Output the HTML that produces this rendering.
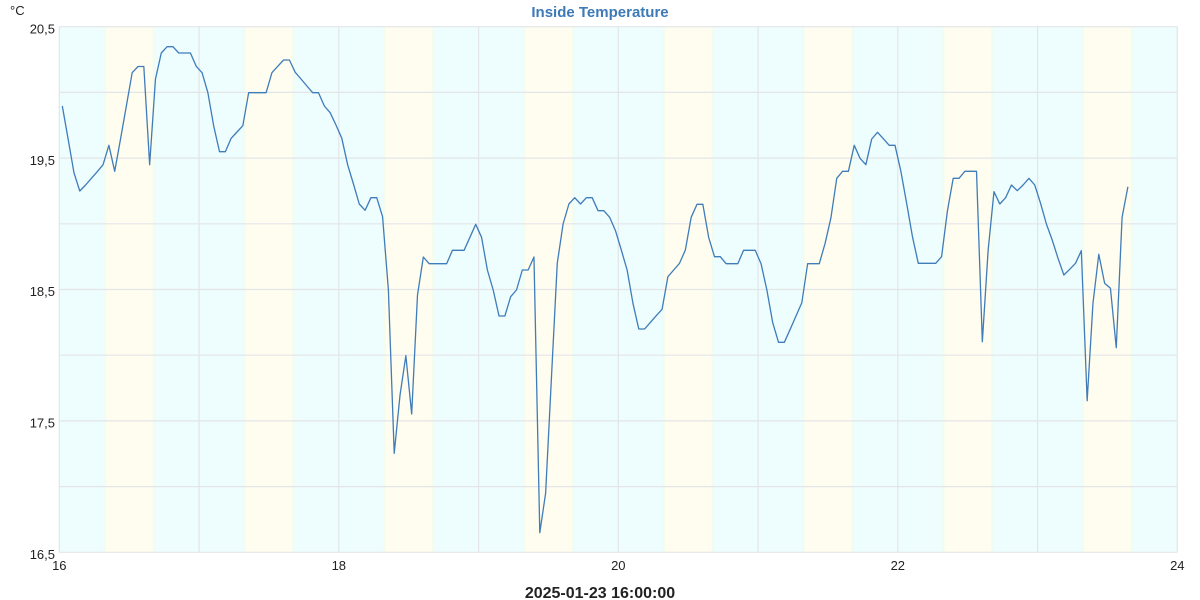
<!DOCTYPE html>
<html>
<head>
<meta charset="utf-8">
<style>
html,body{margin:0;padding:0;background:#fff;}
svg{display:block;font-family:"Liberation Sans",Arial,sans-serif;}
</style>
</head>
<body>
<svg width="1200" height="600" viewBox="0 0 1200 600" xmlns="http://www.w3.org/2000/svg">
<defs>
<linearGradient id="yb" x1="0" y1="0" x2="1" y2="0">
<stop offset="0" stop-color="#eefdfd"/>
<stop offset="0.03" stop-color="#f1fdef"/>
<stop offset="0.07" stop-color="#fffdef"/>
<stop offset="0.93" stop-color="#fffdef"/>
<stop offset="0.97" stop-color="#f1fdef"/>
<stop offset="1" stop-color="#eefdfd"/>
</linearGradient>
</defs>
<rect x="0" y="0" width="1200" height="600" fill="#ffffff"/>
<!-- plot background -->
<rect x="59.3" y="26.7" width="1118" height="525.6" fill="#eefdfd"/>
<g fill="url(#yb)">
<rect x="103.3" y="26.7" width="52" height="525.6"/>
<rect x="243.05" y="26.7" width="52" height="525.6"/>
<rect x="382.8" y="26.7" width="52" height="525.6"/>
<rect x="522.55" y="26.7" width="52" height="525.6"/>
<rect x="662.3" y="26.7" width="52" height="525.6"/>
<rect x="802.05" y="26.7" width="52" height="525.6"/>
<rect x="941.8" y="26.7" width="52" height="525.6"/>
<rect x="1081.55" y="26.7" width="52" height="525.6"/>
</g>
<!-- grid -->
<g stroke="#e3e5e8" stroke-width="1.2" fill="none">
<line x1="59.3" y1="26.7" x2="1177.3" y2="26.7"/>
<line x1="59.3" y1="92.4" x2="1177.3" y2="92.4"/>
<line x1="59.3" y1="158.1" x2="1177.3" y2="158.1"/>
<line x1="59.3" y1="223.8" x2="1177.3" y2="223.8"/>
<line x1="59.3" y1="289.5" x2="1177.3" y2="289.5"/>
<line x1="59.3" y1="355.2" x2="1177.3" y2="355.2"/>
<line x1="59.3" y1="420.9" x2="1177.3" y2="420.9"/>
<line x1="59.3" y1="486.6" x2="1177.3" y2="486.6"/>
<line x1="59.3" y1="552.3" x2="1177.3" y2="552.3"/>
<line x1="59.3" y1="26.7" x2="59.3" y2="552.3"/>
<line x1="199.05" y1="26.7" x2="199.05" y2="552.3"/>
<line x1="338.8" y1="26.7" x2="338.8" y2="552.3"/>
<line x1="478.55" y1="26.7" x2="478.55" y2="552.3"/>
<line x1="618.3" y1="26.7" x2="618.3" y2="552.3"/>
<line x1="758.05" y1="26.7" x2="758.05" y2="552.3"/>
<line x1="897.8" y1="26.7" x2="897.8" y2="552.3"/>
<line x1="1037.55" y1="26.7" x2="1037.55" y2="552.3"/>
<line x1="1177.3" y1="26.7" x2="1177.3" y2="552.3"/>
</g>
<!-- series -->
<polyline fill="none" stroke="#3f7cba" stroke-width="1.3" stroke-linejoin="round" points="
62.3,106 68.12,139 73.95,172.7 79.77,191 85.59,185 91.42,178.3 97.24,171.7 103.06,164.7 108.88,145.3 114.71,171.3
120.53,139 126.35,106 132.18,72.7 138,66.5 143.82,66.5 149.65,164.7 155.47,79 161.29,53 167.11,46.7 172.94,46.7
178.76,53 184.58,53 190.41,53 196.23,66.3 202.05,72.7 207.88,92.7 213.7,126 219.52,151.7 225.34,151.7 231.17,138.3
236.99,132 242.81,125.7 248.64,92.7 254.46,92.7 260.28,92.7 266.11,92.7 271.93,72.7 277.75,66.3 283.57,60 289.4,60
295.22,72.3 301.04,79 306.87,86 312.69,92.7 318.51,92.7 324.34,106 330.16,112.7 335.98,125 341.8,138.3 347.63,164.7
353.45,184 359.27,204 365.1,210.3 370.92,197.7 376.74,197.7 382.57,216.7 388.39,290 394.21,453.3 400.03,395 405.86,355.7
411.68,414 417.5,295 423.33,257 429.15,263.7 434.97,263.7 440.8,263.7 446.62,263.7 452.44,250.3 458.26,250.3 464.09,250.3
469.91,237.3 475.73,224.3 481.56,237.3 487.38,270 493.2,290 499.03,316 504.85,316 510.67,296.7 516.49,290 522.32,270
528.14,270 533.96,257 539.79,532.7 545.61,493.3 551.43,378 557.26,263.3 563.08,224 568.9,204 574.72,197.7 580.55,204
586.37,197.7 592.19,197.7 598.02,210.7 603.84,210.7 609.66,217.3 615.49,230.7 621.31,250 627.13,270 632.95,303.3 638.78,329
644.6,329 650.42,322.3 656.25,315.7 662.07,309.3 667.89,276.7 673.72,270 679.54,263.3 685.36,250 691.18,217.3 697.01,204.3
702.83,204.3 708.65,237.3 714.48,256.7 720.3,256.7 726.12,263.7 731.95,263.7 737.77,263.7 743.59,250.3 749.41,250.3 755.24,250.3
761.06,263.7 766.88,290 772.71,322.7 778.53,342.3 784.35,342.3 790.18,329.3 796,316 801.82,302.7 807.64,263.7 813.47,263.7
819.29,263.7 825.11,243.3 830.94,217.7 836.76,178.3 842.58,171.3 848.41,171.3 854.23,145.3 860.05,158.3 865.87,164.7 871.7,139
877.52,132.3 883.34,138.7 889.17,145.3 894.99,145.3 900.81,171 906.64,203.3 912.46,236.7 918.28,263.3 924.1,263.3 929.93,263.3
935.75,263.3 941.57,256.7 947.4,211 953.22,178.3 959.04,178.3 964.87,171.3 970.69,171.3 976.51,171.3 982.33,341.7 988.16,250
993.98,191.7 999.8,204 1005.63,197.7 1011.45,185 1017.27,190.7 1023.1,185 1028.92,178.3 1034.74,185 1040.56,203.3 1046.39,224
1052.21,240 1058.03,258.3 1063.86,275 1069.68,269.3 1075.5,263.3 1081.33,250.7 1087.15,400.7 1092.97,303.3 1098.79,254.3 1104.62,283.3
1110.44,288.3 1116.26,347.7 1122.09,217.3 1127.91,186.7"/>
<!-- y labels -->
<g font-size="13" fill="#222" text-anchor="end">
<text x="55" y="33.4">20,5</text>
<text x="55" y="164.8">19,5</text>
<text x="55" y="296.2">18,5</text>
<text x="55" y="427.6">17,5</text>
<text x="55" y="559">16,5</text>
</g>
<!-- x labels -->
<g font-size="13" fill="#222" text-anchor="middle">
<text x="59.3" y="570">16</text>
<text x="338.8" y="570">18</text>
<text x="618.3" y="570">20</text>
<text x="897.8" y="570">22</text>
<text x="1177.3" y="570">24</text>
</g>
<text x="10" y="15" font-size="13" fill="#222">°C</text>
<text x="600" y="17" font-size="15" font-weight="bold" fill="#3d7ab6" text-anchor="middle">Inside Temperature</text>
<text x="600" y="598" font-size="16" font-weight="bold" fill="#222" text-anchor="middle">2025-01-23 16:00:00</text>
</svg>
</body>
</html>
